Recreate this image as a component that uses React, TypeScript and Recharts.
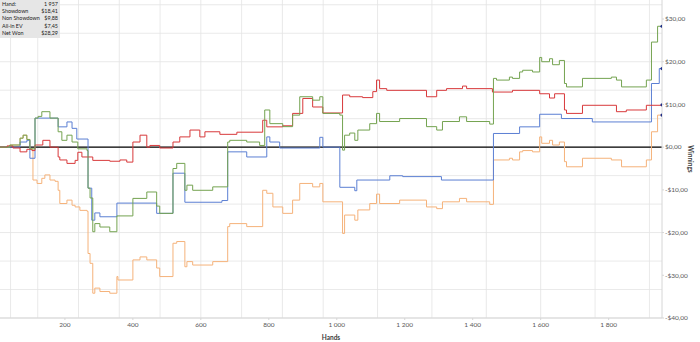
import React from 'react';
import { LineChart, Line, XAxis, YAxis, CartesianGrid, ReferenceLine, Label } from 'recharts';

// [hand, winnings $]
const showdown: [number, number][] = [
  [9, 0], [68, 1.2], [88, 1.6], [97, -2.6], [112, 6.8], [180, 4.75], [206, 5.9], [221, 4.4],
  [235, 1.9], [268, -9.6], [279, -17.1], [288, -15.4], [303, -16.3], [353, -13.1], [470, -15.5],
  [518, -6.1], [553, -12.9], [662, -12.5], [679, -1.1], [735, -2.3], [794, 2.4], [803, 1.2],
  [832, -0.2], [950, 2.3], [959, 0], [1009, -9.4], [1053, -10.2], [1059, -7.7], [1156, -6.7],
  [1194, -6.9], [1308, -7.7], [1461, 3.2], [1538, 4.75], [1597, 7.7], [1661, 6.7], [1752, 5.9],
  [1926, 14.9], [1949, 18.4], [1957, 18.4],
];

const nonShowdown: [number, number][] = [
  [9, 0], [30, 0.3], [47, -0.2], [68, -1.1], [88, -0.5], [103, -0.8], [112, 0.5], [135, 1.6],
  [156, 0], [180, -2.3], [185, -3.0], [206, -3.8], [230, -3.1], [238, -1.2], [250, -2.3],
  [282, -3.1], [332, -3.3], [362, -3.0], [382, -3.5], [400, 1.2], [421, 2.8], [441, 0],
  [450, 0.4], [479, -0.2], [518, 1.2], [538, 2.4], [568, 4.0], [597, 2.4], [612, 3.6],
  [656, 3.0], [706, 3.5], [782, 6.3], [794, 4.75], [841, 5.0], [870, 7.9], [900, 11.4],
  [929, 9.4], [959, 8.0], [1017, 12.2], [1038, 11.8], [1076, 11.6], [1106, 13.0], [1117, 15.7],
  [1126, 13.7], [1147, 13.3], [1264, 11.8], [1294, 13.3], [1323, 13.7], [1370, 14.3],
  [1382, 13.7], [1458, 12.9], [1517, 13.3], [1597, 12.5], [1626, 11.5], [1641, 12.5],
  [1670, 8.7], [1676, 7.9], [1723, 9.8], [1823, 8.3], [1852, 8.7], [1911, 9.8], [1957, 9.9],
];

const netWon: [number, number][] = [
  [9, 0], [38, 0.5], [68, 2.1], [77, 2.8], [88, 1.8], [97, -0.4], [112, 6.8], [121, 7.2],
  [132, 8.3], [156, 6.8], [180, 3.6], [191, 1.6], [206, 2.8], [221, 1.2], [238, -0.4],
  [265, -0.8], [268, -9.6], [274, -11.9], [282, -19.8], [288, -17.9], [303, -18.7], [332, -19.8],
  [353, -16.1], [400, -12.0], [441, -10.5], [470, -13.8], [479, -15.5], [518, -5.0], [529, -3.8],
  [553, -10.1], [559, -8.9], [576, -10.1], [635, -9.3], [679, 1.2], [685, 1.6], [735, 1.2],
  [773, 0.4], [788, 8.7], [803, 5.5], [841, 4.8], [870, 7.5], [891, 11.8], [929, 11.0],
  [950, 11.8], [959, 7.9], [1009, 7.5], [1017, -0.7], [1023, 2.8], [1038, 3.3], [1053, 1.6],
  [1062, 4.0], [1097, 5.5], [1117, 7.9], [1126, 6.0], [1185, 6.7], [1264, 4.8], [1294, 4.0],
  [1311, 6.0], [1361, 7.1], [1382, 6.0], [1450, 5.4], [1461, 16.1], [1470, 15.7], [1508, 16.4],
  [1517, 16.1], [1538, 17.6], [1547, 18.0], [1576, 17.6], [1597, 21.0], [1603, 20.0],
  [1626, 20.7], [1635, 19.3], [1655, 20.3], [1670, 14.9], [1676, 14.1], [1723, 16.1],
  [1808, 16.4], [1823, 15.7], [1838, 14.1], [1911, 15.7], [1926, 24.6], [1944, 28.3], [1957, 28.3],
];

const allInEV: [number, number][] = [
  [9, 0], [38, 0.5], [68, 2.1], [77, 2.8], [88, 1.8], [97, -0.4], [106, -7.7], [118, -8.5],
  [132, -7.3], [141, -6.5], [156, -7.7], [171, -8.0], [180, -10.1], [185, -13.2], [206, -12.4],
  [221, -13.6], [230, -14.0], [244, -14.8], [265, -15.0], [268, -24.9], [274, -27.2],
  [282, -34.2], [288, -33.0], [303, -33.8], [332, -34.2], [353, -30.3], [356, -31.1],
  [400, -26.4], [421, -25.7], [441, -26.4], [470, -28.3], [479, -30.3], [518, -22.5],
  [529, -22.1], [553, -28.0], [559, -26.8], [576, -27.6], [635, -26.8], [679, -18.6],
  [685, -17.9], [735, -18.6], [782, -10.1], [794, -10.8], [812, -14.0], [841, -15.5],
  [870, -12.4], [891, -8.5], [929, -9.3], [950, -8.5], [959, -12.8], [1017, -20.2],
  [1023, -15.9], [1053, -17.1], [1062, -14.7], [1097, -13.2], [1117, -11.0], [1126, -13.2],
  [1185, -12.4], [1264, -14.0], [1294, -14.4], [1311, -12.8], [1361, -12.0], [1382, -12.8],
  [1450, -13.4], [1461, -3.0], [1508, -2.6], [1517, -3.0], [1538, -1.1], [1547, -0.8],
  [1576, -1.1], [1597, 2.4], [1603, 0.9], [1626, 1.6], [1635, 0.5], [1655, 1.2], [1670, -3.4],
  [1676, -4.6], [1723, -2.6], [1808, -3.0], [1838, -4.6], [1911, -3.0], [1926, 3.6],
  [1944, 7.5], [1957, 7.5],
];

const xTicks = [200, 400, 600, 800, 1000, 1200, 1400, 1600, 1800];
const yTicks = [-40, -30, -20, -10, 0, 10, 20, 30];

const summaryLabels = ['Hand:', 'Showdown', 'Non Showdown', 'All-in EV', 'Net Won'];
const summaryValues = ['1 957', '$18,41', '$9,88', '$7,45', '$28,29'];

const gridX: number[] = [];
for (let h = 40; h < 1957; h += 40) gridX.push(h);
const gridY: number[] = [];
for (let i = -12; i <= 10; i++) gridY.push((i * 10) / 3);

const toRows = (pts: [number, number][]) => pts.map(([h, v]) => ({ h, v }));

const fmtHand = (v: number) => (v >= 1000 ? `${Math.floor(v / 1000)} ${String(v % 1000).padStart(3, '0')}` : String(v));
const fmtMoney = (v: number) => `${v < 0 ? '-' : ''}$${Math.abs(v).toFixed(2).replace('.', ',')}`;

const font = 'Lato, "Open Sans", sans-serif';

const endDot = (len: number) => (props: any) => {
  const { cx, cy, index } = props;
  if (index !== len - 1) return <g key={`d${index}`} />;
  return <circle key={`d${index}`} cx={cx} cy={cy} r={1.6} fill="#1f2f8a" />;
};

const series = [
  { name: 'All-in EV', data: allInEV, color: '#f5b27a' },
  { name: 'Showdown', data: showdown, color: '#5b7fd3' },
  { name: 'Non Showdown', data: nonShowdown, color: '#d8393b' },
  { name: 'Net Won', data: netWon, color: '#74a350' },
];

export default function App() {
  return (
    <div style={{ position: 'absolute', left: 0, top: 0, width: 700, height: 342, background: '#fff', fontFamily: font }}>
      <LineChart width={700} height={342} margin={{ top: 0, right: 0, bottom: 0, left: 0 }}>
        <CartesianGrid stroke="#e3e3e3" strokeWidth={0.8} horizontalValues={gridY} verticalValues={gridX} />
        <XAxis
          dataKey="h"
          type="number"
          domain={[9, 1957]}
          ticks={xTicks}
          tickFormatter={fmtHand}
          height={24}
          stroke="#d6d6d6"
          tickSize={2}
          tickMargin={2}
          tick={{ fontSize: 6.5, fill: '#595959', fontFamily: font }}
          allowDataOverflow
        >
          <Label value="Hands" position="insideBottom" offset={2} style={{ fontSize: 6.5, fontWeight: 700, fill: '#404040', fontFamily: font }} />
        </XAxis>
        <YAxis
          orientation="right"
          type="number"
          domain={[-40, 34.45]}
          ticks={yTicks}
          tickFormatter={fmtMoney}
          width={38}
          stroke="#d6d6d6"
          tickSize={2}
          tickMargin={1}
          tick={{ fontSize: 6.5, fill: '#595959', fontFamily: font, textAnchor: 'start' }}
          allowDataOverflow
        >
          <Label value="Winnings" angle={90} position="center" dx={9} style={{ fontSize: 6.5, fontWeight: 700, fill: '#404040', fontFamily: font }} />
        </YAxis>
        <ReferenceLine y={0} stroke="#000" strokeWidth={1.4} />
        {series.map((s) => (
          <Line
            key={s.name}
            data={toRows(s.data)}
            dataKey="v"
            name={s.name}
            type="stepAfter"
            stroke={s.color}
            strokeWidth={1}
            dot={endDot(s.data.length)}
            activeDot={false}
            isAnimationActive={false}
          />
        ))}
      </LineChart>
      <div
        style={{
          position: 'absolute', left: 0, top: 0, width: 56, padding: '1px 2px', background: '#e6e6e6',
          fontSize: 5.4, lineHeight: '7.2px', color: '#222', fontFamily: font,
        }}
      >
        {summaryLabels.map((l, i) => (
          <div key={l} style={{ display: 'flex', justifyContent: 'space-between' }}>
            <span>{l}</span>
            <span>{summaryValues[i]}</span>
          </div>
        ))}
      </div>
    </div>
  );
}
